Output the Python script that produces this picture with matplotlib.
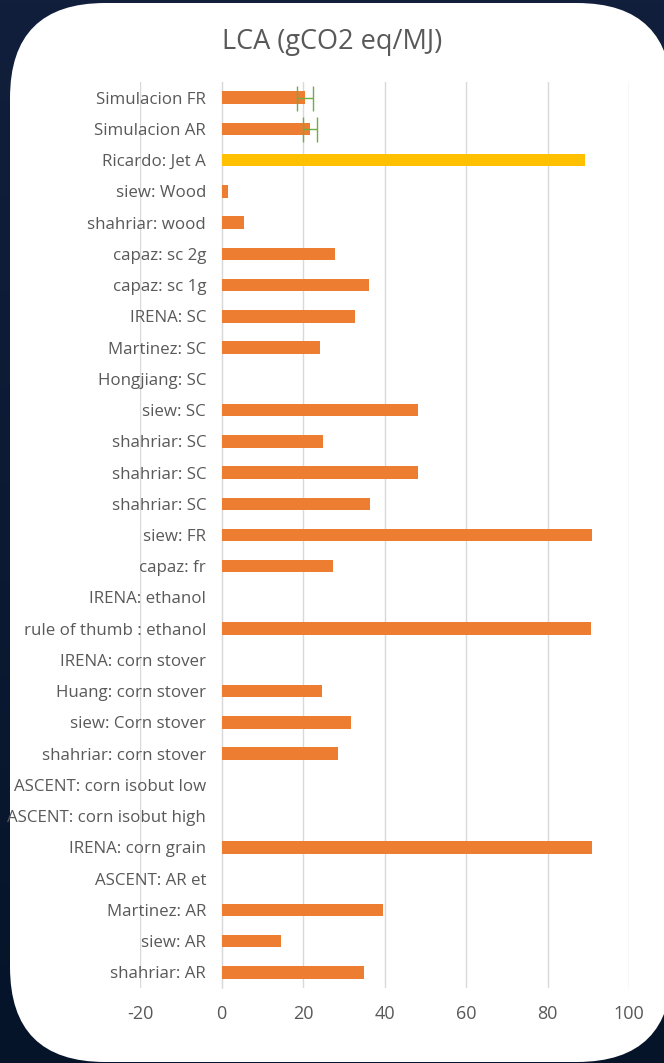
import numpy as np
import matplotlib
matplotlib.use("Agg")
import matplotlib.pyplot as plt
from matplotlib.patches import FancyBboxPatch
from matplotlib.transforms import IdentityTransform

# categories, top to bottom as in the chart
labels = ["Simulacion FR", "Simulacion AR", "Ricardo: Jet A", "siew: Wood",
          "shahriar: wood", "capaz: sc 2g", "capaz: sc 1g", "IRENA: SC",
          "Martinez: SC", "Hongjiang: SC", "siew: SC", "shahriar: SC",
          "shahriar: SC", "shahriar: SC", "siew: FR", "capaz: fr",
          "IRENA: ethanol", "rule of thumb : ethanol", "IRENA: corn stover",
          "Huang: corn stover", "siew: Corn stover", "shahriar: corn stover",
          "ASCENT: corn isobut low", "ASCENT: corn isobut high",
          "IRENA: corn grain", "ASCENT: AR et", "Martinez: AR", "siew: AR",
          "shahriar: AR"]
values = [20.5, 21.7, 89.2, 1.7, 5.6, 27.8, 36.1, 32.7, 24.1, 0, 48.2, 24.8,
          48.2, 36.4, 91.0, 27.3, 0, 90.7, 0, 24.6, 31.9, 28.5, 0, 0, 90.9, 0,
          39.6, 14.7, 34.9]
errors = [2.0, 1.8] + [0] * (len(labels) - 2)
highlight = "Ricardo: Jet A"
xticks = [-20, 0, 20, 40, 60, 80, 100]

W, H = 664, 1063
fig = plt.figure(figsize=(W / 100, H / 100), dpi=100)
fig.patch.set_facecolor("#0d1a33")

# background gradient
grad = np.linspace(0, 1, 256).reshape(-1, 1)
bg = fig.add_axes([0, 0, 1, 1], zorder=-10)
bg.imshow(grad, aspect="auto", extent=[0, 1, 0, 1],
          cmap=matplotlib.colors.LinearSegmentedColormap.from_list(
              "bg", ["#06142a", "#111f3c"]), origin="lower")
bg.axis("off")

# white rounded card (pixel coords)
card = FancyBboxPatch((10, 1), 662, 1059, boxstyle="round,pad=0,rounding_size=95",
                      transform=IdentityTransform(), facecolor="white",
                      edgecolor="none", zorder=-5)
fig.patches.append(card)

text_col = "#595959"
plt.rcParams["font.family"] = ["Open Sans", "DejaVu Sans"]

ax = fig.add_axes([140 / W, 1 - 988 / H, 489 / W, 906 / H])
ax.set_facecolor("none")
y = np.arange(len(labels))
colors = ["#FFC000" if l == highlight else "#ED7D31" for l in labels]
ax.barh(y, values, height=0.4, color=colors, zorder=3)
err_idx = [i for i, e in enumerate(errors) if e > 0]
ax.errorbar([values[i] for i in err_idx], [y[i] for i in err_idx],
            xerr=[errors[i] for i in err_idx], fmt="none", ecolor="#70AD47",
            elinewidth=1.0, capsize=9, capthick=1.0, zorder=4)

ax.set_xlim(-20, 100)
ax.set_ylim(len(labels) - 0.5, -0.5)
ax.set_xticks(xticks)
ax.set_xticklabels([str(t) for t in xticks])
ax.set_yticks(y)
ax.set_yticklabels(labels)
ax.grid(axis="x", color="#d9d9d9", linewidth=1.0, zorder=0)
for s in ["top", "right", "bottom"]:
    ax.spines[s].set_visible(False)
ax.spines["left"].set_position(("data", 0))
ax.spines["left"].set_color("#d9d9d9")
ax.tick_params(axis="y", length=0, pad=11, labelsize=12.2, labelcolor=text_col)
ax.tick_params(axis="x", length=0, pad=12, labelsize=13, labelcolor=text_col)
for lab in ax.get_yticklabels():
    lab.set_clip_on(True)
    lab.set_clip_path(card)

fig.text(0.5, 1 - 42 / H, "LCA (gCO2 eq/MJ)", ha="center", va="center",
         fontsize=19.5, color=text_col)

fig.savefig("out.png", dpi=100, facecolor=fig.get_facecolor())
